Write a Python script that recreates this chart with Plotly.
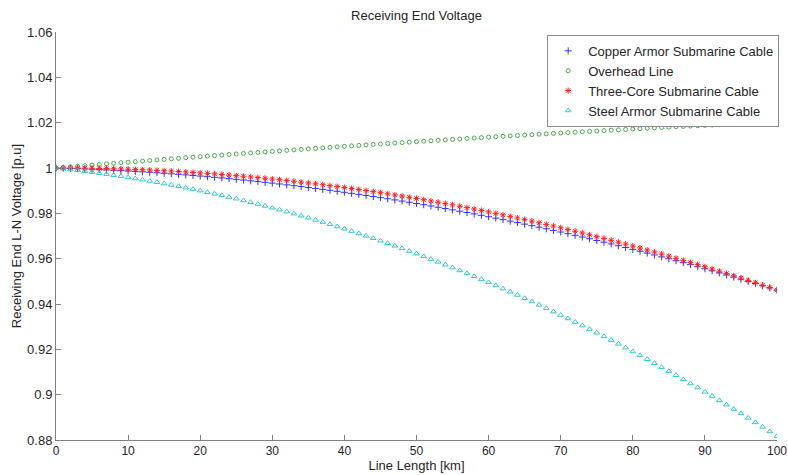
import plotly.graph_objects as go

length_km = list(range(0, 101))

copper_armor = [
    1.00000, 0.99991, 0.99981, 0.99970, 0.99958, 0.99945, 0.99931, 0.99917, 0.99901, 0.99885,
    0.99868, 0.99849, 0.99830, 0.99810, 0.99789, 0.99767, 0.99745, 0.99721, 0.99697, 0.99671,
    0.99645, 0.99617, 0.99589, 0.99560, 0.99530, 0.99499, 0.99468, 0.99435, 0.99401, 0.99367,
    0.99332, 0.99295, 0.99258, 0.99220, 0.99181, 0.99141, 0.99100, 0.99059, 0.99016, 0.98972,
    0.98928, 0.98883, 0.98837, 0.98789, 0.98741, 0.98692, 0.98643, 0.98592, 0.98540, 0.98488,
    0.98434, 0.98380, 0.98325, 0.98268, 0.98211, 0.98153, 0.98095, 0.98035, 0.97974, 0.97913,
    0.97850, 0.97787, 0.97722, 0.97657, 0.97591, 0.97524, 0.97456, 0.97387, 0.97318, 0.97247,
    0.97176, 0.97103, 0.97030, 0.96956, 0.96880, 0.96804, 0.96728, 0.96650, 0.96571, 0.96491,
    0.96411, 0.96329, 0.96247, 0.96164, 0.96079, 0.95994, 0.95908, 0.95822, 0.95734, 0.95645,
    0.95556, 0.95465, 0.95374, 0.95281, 0.95188, 0.95094, 0.94999, 0.94903, 0.94806, 0.94709,
    0.94610,
]

overhead_line = [
    1.00000, 1.00026, 1.00052, 1.00078, 1.00104, 1.00130, 1.00155, 1.00181, 1.00206, 1.00231,
    1.00256, 1.00281, 1.00306, 1.00331, 1.00355, 1.00380, 1.00404, 1.00428, 1.00452, 1.00476,
    1.00500, 1.00524, 1.00548, 1.00571, 1.00595, 1.00618, 1.00641, 1.00664, 1.00687, 1.00710,
    1.00733, 1.00756, 1.00778, 1.00800, 1.00823, 1.00845, 1.00867, 1.00889, 1.00910, 1.00932,
    1.00954, 1.00975, 1.00996, 1.01018, 1.01039, 1.01060, 1.01080, 1.01101, 1.01122, 1.01142,
    1.01163, 1.01183, 1.01203, 1.01223, 1.01243, 1.01263, 1.01282, 1.01302, 1.01321, 1.01340,
    1.01360, 1.01379, 1.01398, 1.01416, 1.01435, 1.01454, 1.01472, 1.01491, 1.01509, 1.01527,
    1.01545, 1.01563, 1.01581, 1.01598, 1.01616, 1.01633, 1.01650, 1.01668, 1.01685, 1.01702,
    1.01718, 1.01735, 1.01752, 1.01768, 1.01785, 1.01801, 1.01817, 1.01833, 1.01849, 1.01864,
    1.01880, 1.01896, 1.01911, 1.01926, 1.01941, 1.01957, 1.01971, 1.01986, 1.02001, 1.02016,
    1.02030,
]

three_core = [
    1.00000, 0.99999, 0.99998, 0.99995, 0.99991, 0.99987, 0.99981, 0.99974, 0.99966, 0.99956,
    0.99946, 0.99935, 0.99923, 0.99909, 0.99895, 0.99879, 0.99862, 0.99845, 0.99826, 0.99806,
    0.99785, 0.99763, 0.99740, 0.99715, 0.99690, 0.99664, 0.99636, 0.99608, 0.99578, 0.99548,
    0.99516, 0.99483, 0.99449, 0.99414, 0.99378, 0.99341, 0.99303, 0.99263, 0.99223, 0.99182,
    0.99139, 0.99096, 0.99051, 0.99005, 0.98958, 0.98911, 0.98862, 0.98812, 0.98760, 0.98708,
    0.98655, 0.98601, 0.98545, 0.98489, 0.98431, 0.98373, 0.98313, 0.98252, 0.98190, 0.98127,
    0.98063, 0.97998, 0.97932, 0.97865, 0.97796, 0.97727, 0.97656, 0.97585, 0.97512, 0.97439,
    0.97364, 0.97288, 0.97211, 0.97133, 0.97054, 0.96974, 0.96893, 0.96810, 0.96727, 0.96642,
    0.96557, 0.96470, 0.96382, 0.96294, 0.96204, 0.96113, 0.96021, 0.95928, 0.95834, 0.95739,
    0.95642, 0.95545, 0.95446, 0.95347, 0.95246, 0.95145, 0.95042, 0.94938, 0.94833, 0.94727,
    0.94620,
]

steel_armor = [
    1.00000, 0.99966, 0.99931, 0.99894, 0.99855, 0.99814, 0.99772, 0.99728, 0.99682, 0.99635,
    0.99586, 0.99535, 0.99482, 0.99428, 0.99372, 0.99314, 0.99255, 0.99194, 0.99131, 0.99067,
    0.99001, 0.98933, 0.98863, 0.98792, 0.98719, 0.98644, 0.98568, 0.98489, 0.98410, 0.98328,
    0.98245, 0.98160, 0.98073, 0.97985, 0.97895, 0.97803, 0.97709, 0.97614, 0.97517, 0.97418,
    0.97318, 0.97216, 0.97112, 0.97007, 0.96900, 0.96791, 0.96680, 0.96568, 0.96454, 0.96338,
    0.96221, 0.96102, 0.95981, 0.95858, 0.95734, 0.95608, 0.95480, 0.95351, 0.95220, 0.95087,
    0.94953, 0.94816, 0.94679, 0.94539, 0.94398, 0.94255, 0.94110, 0.93963, 0.93815, 0.93665,
    0.93514, 0.93361, 0.93206, 0.93049, 0.92891, 0.92730, 0.92569, 0.92405, 0.92240, 0.92073,
    0.91904, 0.91734, 0.91562, 0.91388, 0.91213, 0.91036, 0.90857, 0.90676, 0.90494, 0.90310,
    0.90124, 0.89937, 0.89747, 0.89557, 0.89364, 0.89170, 0.88974, 0.88776, 0.88577, 0.88376,
    0.88173,
]

series_names = [
    "Copper Armor Submarine Cable",
    "Overhead Line",
    "Three-Core Submarine Cable",
    "Steel Armor Submarine Cable",
]

y_tick_values = [0.88, 0.90, 0.92, 0.94, 0.96, 0.98, 1.00, 1.02, 1.04, 1.06]
y_tick_labels = ["0.88", "0.9", "0.92", "0.94", "0.96", "0.98", "1", "1.02", "1.04", "1.06"]
x_tick_values = [0, 10, 20, 30, 40, 50, 60, 70, 80, 90, 100]
x_tick_labels = ["0", "10", "20", "30", "40", "50", "60", "70", "80", "90", "100"]

FONT = "Liberation Sans, Arial, sans-serif"
TXT = "#262626"
FS = 13

styles = [
    dict(symbol="cross-thin-open", color="#3030ff", size=5),
    dict(symbol="circle-open", color="#4aa64a", size=4),
    dict(symbol="asterisk-open", color="#ff2020", size=5),
    dict(symbol="triangle-up-open", color="#30c8c8", size=5),
]

fig = go.Figure()
for name, vals, st in zip(series_names,
                          [copper_armor, overhead_line, three_core, steel_armor],
                          styles):
    fig.add_trace(go.Scatter(
        x=length_km, y=vals, mode="markers", name=name,
        marker=dict(symbol=st["symbol"], size=st["size"], color=st["color"],
                    line=dict(color=st["color"], width=1)),
    ))

W, H = 788, 475
fig.update_layout(
    width=W, height=H,
    margin=dict(l=56, r=11, t=32, b=35, autoexpand=False),
    paper_bgcolor="white", plot_bgcolor="white",
    font=dict(family=FONT, size=FS, color=TXT),
    title=dict(text="Receiving End Voltage", x=0.5, xref="paper",
               y=1 - 15 / H, yanchor="middle",
               font=dict(family=FONT, size=FS, color=TXT)),
    showlegend=True,
    legend=dict(x=1.003, y=0.993, xanchor="right", yanchor="top",
                bordercolor="#8c8c8c", borderwidth=1, bgcolor="white",
                font=dict(family=FONT, size=FS, color=TXT),
                tracegroupgap=0, itemwidth=30),
)

fig.update_xaxes(
    range=[0, 100], tickvals=x_tick_values, ticktext=x_tick_labels,
    automargin=False, ticklabeloverflow="allow",
    showgrid=False, zeroline=False, showline=True, linecolor="#808080",
    linewidth=1, ticks="inside", ticklen=5, tickcolor="#808080",
    tickfont=dict(family=FONT, size=12, color=TXT),
    title=dict(text="Line Length [km]", standoff=0,
               font=dict(family=FONT, size=FS, color=TXT)),
)
fig.update_yaxes(
    range=[0.88, 1.06], tickvals=y_tick_values, ticktext=y_tick_labels,
    automargin=False, ticklabeloverflow="allow",
    showgrid=False, zeroline=False, showline=True, linecolor="#808080",
    linewidth=1, ticks="inside", ticklen=5, tickcolor="#808080",
    tickfont=dict(family=FONT, size=FS, color=TXT),
    title=dict(text="Receiving End L-N Voltage [p.u]", standoff=2,
               font=dict(family=FONT, size=FS, color=TXT)),
)

fig.write_html(
    "out.html",
    config={"displayModeBar": False},
    post_script="document.body.style.margin='0';document.body.style.overflow='hidden';",
)
